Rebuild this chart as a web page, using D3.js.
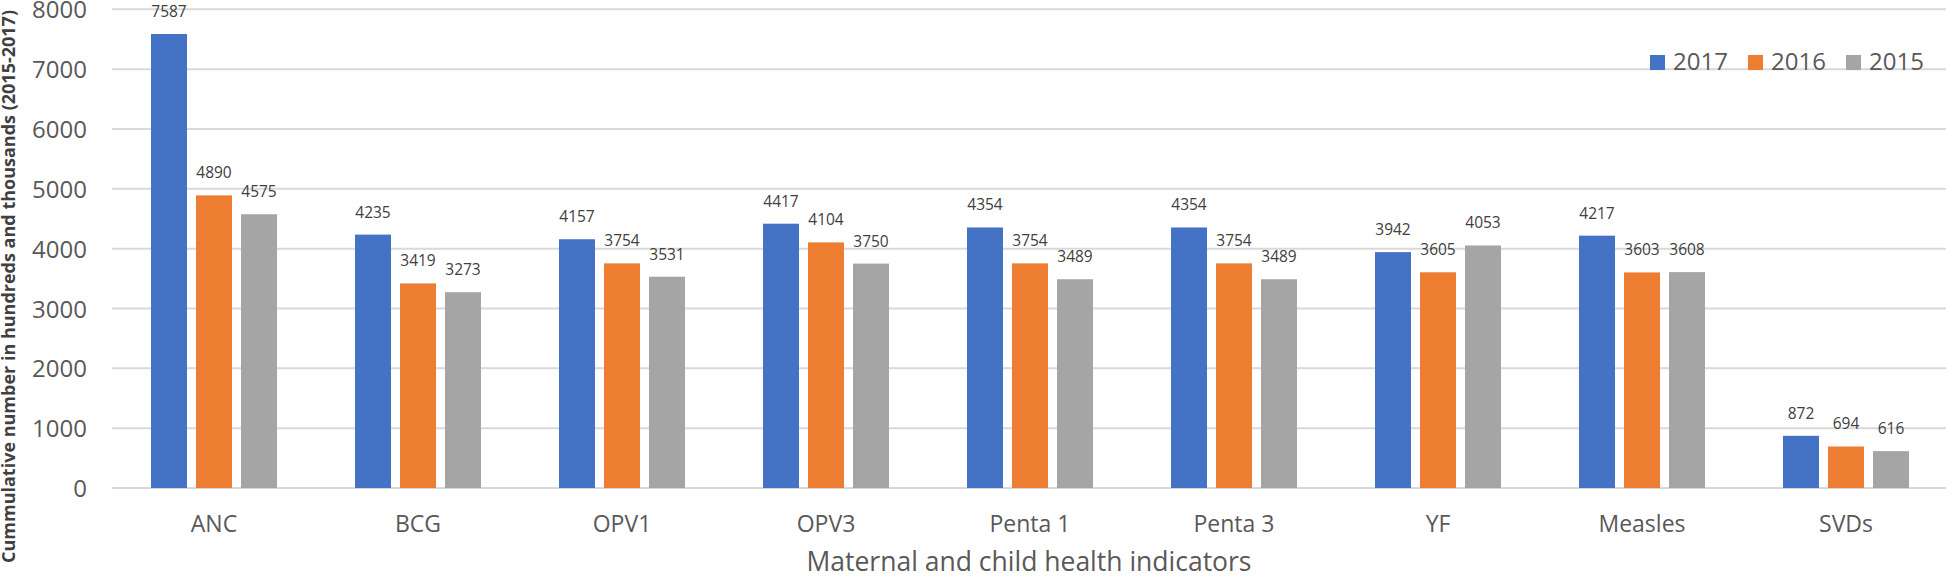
<!DOCTYPE html>
<html>
<head>
<meta charset="utf-8">
<script src="https://cdn.jsdelivr.net/npm/d3@7"></script>
<style>
  html, body { margin: 0; padding: 0; background: #ffffff; }
  svg { display: block; }
</style>
</head>
<body>
<svg id="chart" width="1946" height="577"></svg>
<script>
const categories = ["ANC", "BCG", "OPV1", "OPV3", "Penta 1", "Penta 3", "YF", "Measles", "SVDs"];
const seriesNames = ["2017", "2016", "2015"];
const values2017 = [7587, 4235, 4157, 4417, 4354, 4354, 3942, 4217, 872];
const values2016 = [4890, 3419, 3754, 4104, 3754, 3754, 3605, 3603, 694];
const values2015 = [4575, 3273, 3531, 3750, 3489, 3489, 4053, 3608, 616];
const yTicks = [0, 1000, 2000, 3000, 4000, 5000, 6000, 7000, 8000];
const colors = ["#4472C4", "#ED7D31", "#A5A5A5"];
const yTitle = "Cummulative number in hundreds and thousands (2015-2017)";
const xTitle = "Maternal and child health indicators";

const seriesValues = [values2017, values2016, values2015];
const rows = categories.map((c, i) => ({
  cat: c,
  vals: seriesNames.map((s, j) => ({ key: s, value: seriesValues[j][i], color: colors[j] }))
}));

const svg = d3.select("#chart");
const plotLeft = 112, plotRight = 1948, plotTop = 9.3, plotBottom = 488;

const x0 = d3.scaleBand().domain(categories).range([plotLeft, plotRight]).padding(0);
const groupW = 126;
const x1 = d3.scaleBand().domain(seriesNames).range([0, groupW]).paddingInner(0.2);
const y = d3.scaleLinear().domain([0, 8000]).range([plotBottom, plotTop]);

// gridlines
svg.append("g")
  .selectAll("line").data(yTicks).join("line")
  .attr("x1", plotLeft).attr("x2", 1946)
  .attr("y1", d => y(d)).attr("y2", d => y(d))
  .attr("stroke", "#d9d9d9").attr("stroke-width", 2);

// y axis labels
const yAxis = d3.axisLeft(y).tickValues(yTicks).tickSize(0).tickPadding(0).tickFormat(d3.format("d"));
const yg = svg.append("g").attr("transform", `translate(87,0)`).call(yAxis);
yg.select(".domain").remove();
yg.selectAll("text")
  .attr("font-family", "'Open Sans', sans-serif")
  .attr("font-size", 24)
  .attr("fill", "#595959")
  .attr("dy", "0.36em");

// bars
const groups = svg.append("g").selectAll("g").data(rows).join("g")
  .attr("transform", d => `translate(${x0(d.cat) + (x0.bandwidth() - groupW) / 2},0)`);

groups.selectAll("rect").data(d => d.vals).join("rect")
  .attr("x", d => x1(d.key))
  .attr("width", x1.bandwidth())
  .attr("y", d => y(d.value))
  .attr("height", d => y(0) - y(d.value))
  .attr("fill", d => d.color);

groups.selectAll("text").data(d => d.vals).join("text")
  .attr("x", d => x1(d.key) + x1.bandwidth() / 2)
  .attr("y", d => y(d.value) - 17)
  .attr("text-anchor", "middle")
  .attr("font-family", "'Open Sans', sans-serif")
  .attr("font-size", 15.5)
  .attr("fill", "#404040")
  .text(d => d.value);

// x axis category labels
const xAxis = d3.axisBottom(x0).tickSize(0).tickPadding(0);
const xg = svg.append("g").attr("transform", `translate(0,532)`).call(xAxis);
xg.select(".domain").remove();
xg.selectAll("text")
  .attr("font-family", "'Open Sans', sans-serif")
  .attr("font-size", 23)
  .attr("fill", "#595959")
  .attr("dy", 0);

// x title
svg.append("text")
  .attr("x", (plotLeft + 1946) / 2)
  .attr("y", 571)
  .attr("text-anchor", "middle")
  .attr("font-family", "'Open Sans', sans-serif")
  .attr("font-size", 26.5)
  .attr("fill", "#595959")
  .text(xTitle);

// y title
svg.append("text")
  .attr("transform", `translate(15,${(10 + 563) / 2}) rotate(-90)`)
  .attr("text-anchor", "middle")
  .attr("font-family", "'Open Sans', sans-serif")
  .attr("font-weight", "bold")
  .attr("font-size", 18)
  .attr("fill", "#404040")
  .text(yTitle);

// legend
const legendX = [1650, 1748, 1846];
const lg = svg.append("g").selectAll("g").data(seriesNames).join("g")
  .attr("transform", (d, i) => `translate(${legendX[i]},0)`);
lg.append("rect").attr("x", 0).attr("y", 55).attr("width", 15).attr("height", 15)
  .attr("fill", (d, i) => colors[i]);
lg.append("text").attr("x", 23).attr("y", 70)
  .attr("font-family", "'Open Sans', sans-serif")
  .attr("font-size", 24)
  .attr("fill", "#595959")
  .text(d => d);
</script>
</body>
</html>
